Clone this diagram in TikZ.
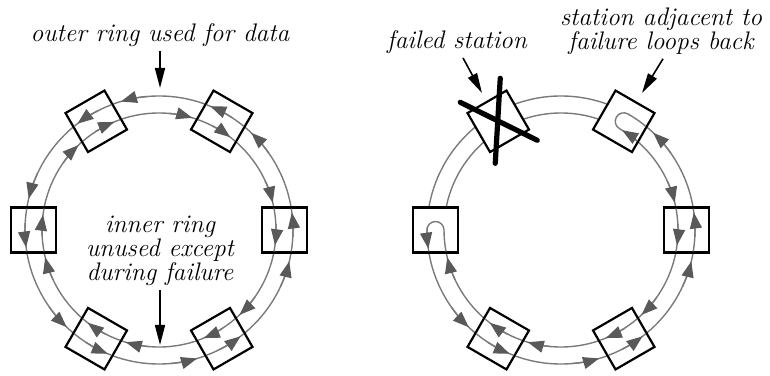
\documentclass[tikz,border=0pt]{standalone}
\usetikzlibrary{arrows.meta}
\definecolor{ringgray}{gray}{0.48}
\definecolor{tipgray}{gray}{0.35}

\begin{document}
\begin{tikzpicture}[
    x=0.5pt, y=0.5pt,
    font=\fontsize{12.7}{12}\selectfont\itshape,
    ring/.style={ringgray, line width=0.7pt},
    station/.style={
        rectangle,
        draw,
        fill=white,
        line width=1.1pt,
        minimum size=22.5pt,
        inner sep=0pt
    },
    flow/.style={ring, -{Triangle[length=8pt, width=6pt, color=tipgray]}},
    pointer/.style={line width=0.8pt, -{Triangle[length=10pt, width=5pt]}},
    cross/.style={line width=2.6pt, line cap=round},
    note/.style={align=center, inner sep=2pt}
]
\useasboundingbox (0,0) rectangle (770,375);

\begin{scope}[shift={(159,145)}]
    \draw[ring] (0,0) circle[radius=134];
    \draw[ring] (0,0) circle[radius=117];
    \foreach \b in {0,60,...,300} {
        \node[station, rotate=\b] (L\b) at (\b:125.5) {};
        \draw[ring] ({\b-9.2}:134) arc[start angle=\b-9.2, end angle=\b+9.2, radius=134];
        \draw[ring] ({\b-10.6}:117) arc[start angle=\b-10.6, end angle=\b+10.6, radius=117];
        \draw[flow] ({\b-25}:134) arc[start angle=\b-25, end angle=\b-13.5, radius=134];
        \draw[flow] ({\b+25}:117) arc[start angle=\b+25, end angle=\b+13.5, radius=117];
        \draw[flow] ({\b-3}:134) arc[start angle=\b-3, end angle=\b+7.5, radius=134];
        \draw[flow] ({\b+3}:117) arc[start angle=\b+3, end angle=\b-7.5, radius=117];
    }
\end{scope}

\begin{scope}[shift={(561,145)}]
    \draw[ring] (0,0) circle[radius=134];
    \draw[ring] (0,0) circle[radius=117];
    \foreach \b in {0,60,...,300}
        \node[station, rotate=\b] (R\b) at (\b:125.5) {};
    \foreach \b in {0,240,300} {
        \draw[ring] ({\b-9.2}:134) arc[start angle=\b-9.2, end angle=\b+9.2, radius=134];
        \draw[ring] ({\b-10.6}:117) arc[start angle=\b-10.6, end angle=\b+10.6, radius=117];
        \draw[flow] ({\b-25}:134) arc[start angle=\b-25, end angle=\b-13.5, radius=134];
        \draw[flow] ({\b+25}:117) arc[start angle=\b+25, end angle=\b+13.5, radius=117];
        \draw[flow] ({\b-3}:134) arc[start angle=\b-3, end angle=\b+7.5, radius=134];
        \draw[flow] ({\b+3}:117) arc[start angle=\b+3, end angle=\b-7.5, radius=117];
    }
    \draw[ring] (189.2:134) arc[start angle=189.2, end angle=180, radius=134]
        arc[start angle=180, end angle=0, radius=8.5]
        arc[start angle=180, end angle=190.6, radius=117];
    \draw[ring] (50.8:134) arc[start angle=50.8, end angle=60, radius=134]
        arc[start angle=60, end angle=240, radius=8.5]
        arc[start angle=60, end angle=49.4, radius=117];
    \draw[flow] (205:117) arc[start angle=205, end angle=193.5, radius=117];
    \draw[flow] (179:134) arc[start angle=179, end angle=188, radius=134];
    \draw[flow] (35:134) arc[start angle=35, end angle=46.5, radius=134];
    \draw[flow] (49.5:117) arc[start angle=49.5, end angle=58.5, radius=117];
\end{scope}

\draw[cross] ([shift={(-38,19)}]R120.center) -- ([shift={(39,-19)}]R120.center);
\draw[cross] ([shift={(2,43)}]R120.center) -- ([shift={(-3,-42)}]R120.center);

\node[note] (outerlbl) at (160,340) {outer ring used for data};
\node[note] (innerlbl) at (160,124) {inner ring\\unused except\\during failure};
\node[note] (failedlbl) at (457,333) {failed station};
\node[note] (adjlbl) at (661,344) {station adjacent to\\failure loops back};

\coordinate (outertip) at (160,287);
\coordinate (innertip) at (160,30);
\coordinate (failtip) at (482,282);
\coordinate (adjtip) at (642,282);

\draw[pointer] (outerlbl.south) -- (outertip);
\draw[pointer] (innerlbl.south) -- (innertip);
\draw[pointer] ([xshift=3pt]failedlbl.south) -- (failtip);
\draw[pointer] ([xshift=1pt]adjlbl.south) -- (adjtip);

\end{tikzpicture}
\end{document}
